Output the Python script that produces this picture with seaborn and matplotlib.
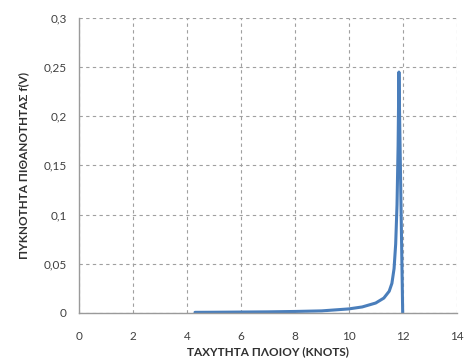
import matplotlib
matplotlib.use("Agg")
import matplotlib.pyplot as plt
import matplotlib.ticker as mticker
import pandas as pd
import seaborn as sns

# ship speed (knots) and probability density f(V)
speed = [4.3, 5.0, 6.0, 7.0, 8.0, 9.0, 9.5, 10.0, 10.5, 11.0, 11.3, 11.5,
         11.6, 11.68, 11.74, 11.79, 11.83, 11.86, 12.0]
density = [0.0005, 0.0006, 0.0008, 0.001, 0.0014, 0.002, 0.003, 0.004, 0.006,
           0.010, 0.015, 0.022, 0.030, 0.045, 0.070, 0.110, 0.170, 0.245, 0.0]

x_ticks = [0, 2, 4, 6, 8, 10, 12, 14]
y_ticks = [0, 0.05, 0.1, 0.15, 0.2, 0.25, 0.3]

df = pd.DataFrame({"speed": speed, "density": density})

sns.set_theme(style="white")
plt.rcParams["font.family"] = ["Lato", "DejaVu Sans"]

fig = plt.figure(figsize=(4.65, 3.6), dpi=100)
ax = fig.add_axes([0.170, 0.131, 0.812, 0.819])

sns.lineplot(data=df, x="speed", y="density", sort=False, color="#4a7ebb",
             linewidth=2.2, ax=ax)

ax.set_xlim(0, 14)
ax.set_ylim(0, 0.3)
ax.set_xticks(x_ticks)
ax.set_yticks(y_ticks)
ax.yaxis.set_major_formatter(mticker.FuncFormatter(
    lambda v, _: f"{v:g}".replace(".", ",")))
ax.grid(True, linestyle=(0, (3, 3)), color="#a0a0a0", linewidth=0.8)
for side in ["top", "right"]:
    ax.spines[side].set_visible(False)
for side in ["left", "bottom"]:
    ax.spines[side].set_color("#9a9a9a")
    ax.spines[side].set_linewidth(1.0)
ax.tick_params(axis="both", length=3, color="#9a9a9a", labelsize=8.5,
               labelcolor="#404040", pad=6)
ax.tick_params(axis="x", pad=10)

ax.set_xlabel("ΤΑΧΥΤΗΤΑ ΠΛΟΙΟΥ (KNOTS)", fontsize=8.5, fontweight="bold",
              color="#303030", labelpad=3)
ax.set_ylabel("ΠΥΚΝΟΤΗΤΑ ΠΙΘΑΝΟΤΗΤΑΣ f(V)", fontsize=8.5, fontweight="bold",
              color="#303030", labelpad=10)

fig.savefig("out.png", dpi=100)
plt.close(fig)
